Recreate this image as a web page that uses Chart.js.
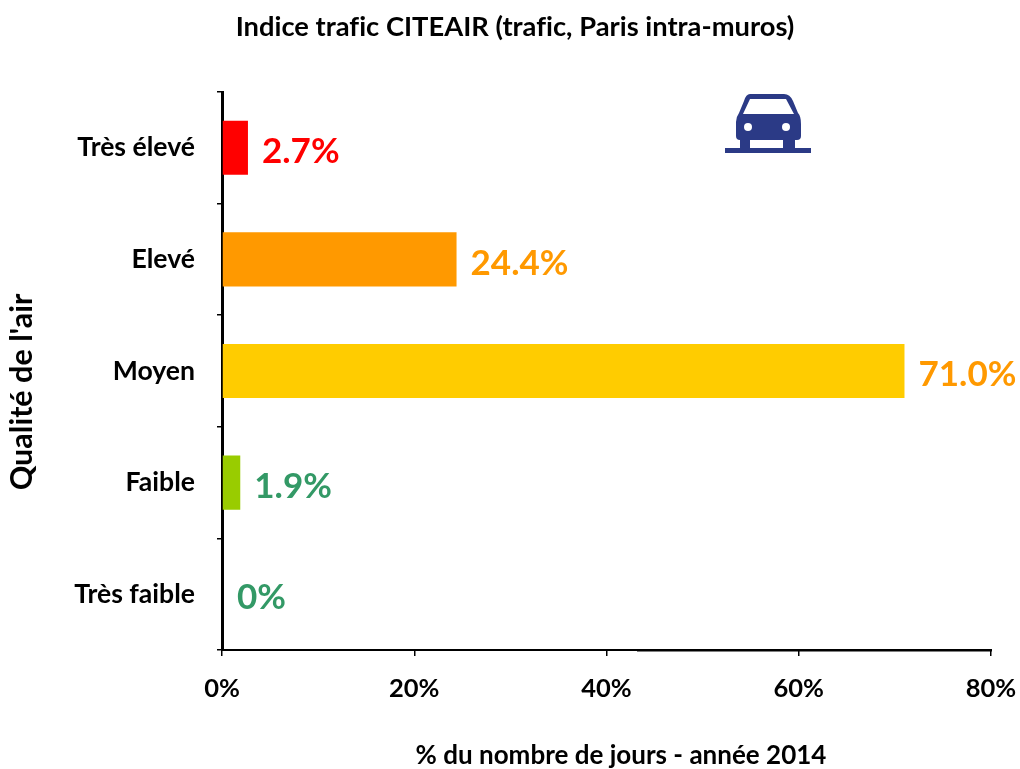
<!DOCTYPE html>
<html><head><meta charset="utf-8">
<style>html,body{margin:0;padding:0;background:#fff}canvas{display:block}</style>
<script src="https://cdn.jsdelivr.net/npm/chart.js@4"></script></head>
<body><canvas id="c" width="1020" height="769"></canvas>
<script>
const categories = ['Très élevé','Elevé','Moyen','Faible','Très faible'];
const values = [2.7,24.4,71.0,1.9,0];
const valueLabels = ['2.7%','24.4%','71.0%','1.9%','0%'];
const barColors = ['#ff0000','#ff9900','#ffcc00','#99cc00','#99cc00'];
const labelColors = ['#ff0000','#ff9900','#ff9900','#339966','#339966'];
const chartTitle = 'Indice trafic CITEAIR (trafic, Paris intra-muros)';
const xTitle = '% du nombre de jours - année 2014';
const yTitle = "Qualité de l'air";
const FONT = 'Lato, Carlito, sans-serif';

const decor = {
  id:'decor',
  afterDatasetsDraw(chart){
    const {ctx,scales:{x,y}} = chart;
    ctx.save();
    ctx.letterSpacing='0.01px';
    ctx.textBaseline='middle';
    ctx.font = `bold 35px ${FONT}`;
    ctx.textAlign='left';
    values.forEach((v,i)=>{
      ctx.fillStyle = labelColors[i];
      ctx.fillText(valueLabels[i], x.getPixelForValue(v)+(v===0?15:14), y.getPixelForValue(i)+4);
    });
    ctx.fillStyle='#000';
    ctx.font = `bold 27.3px ${FONT}`;
    ctx.textAlign='center';
    ctx.fillText(chartTitle,515,27);
    ctx.font = `bold 26px ${FONT}`;
    ctx.fillText(xTitle,621,756);
    ctx.save();
    ctx.translate(22,392);ctx.rotate(-Math.PI/2);
    ctx.font = `bold 30.5px ${FONT}`;
    ctx.fillText(yTitle,0,0);
    ctx.restore();
    // thicker stretch of the baseline
    ctx.fillRect(637,649,355,2.5);
    // car pictogram
    ctx.fillStyle='#2b3a86';
    ctx.fillRect(725,148,86,5);
    ctx.beginPath();
    ctx.moveTo(750,94);ctx.lineTo(784,94);ctx.quadraticCurveTo(790,94,793,101);
    ctx.lineTo(798,113);ctx.quadraticCurveTo(801,116,801,124);ctx.lineTo(801,136);
    ctx.quadraticCurveTo(801,140,797,140);ctx.lineTo(795,140);ctx.lineTo(795,149);ctx.lineTo(783,149);
    ctx.lineTo(783,140);ctx.lineTo(750,140);ctx.lineTo(750,149);ctx.lineTo(740,149);ctx.lineTo(740,140);
    ctx.quadraticCurveTo(736,140,736,136);ctx.lineTo(736,122);
    ctx.quadraticCurveTo(736,117,739,113);ctx.lineTo(744,101);ctx.quadraticCurveTo(746,94,750,94);
    ctx.closePath();ctx.fill();
    ctx.fillStyle='#fff';
    ctx.beginPath();
    ctx.moveTo(750,99);ctx.lineTo(786,99);ctx.lineTo(794,114);ctx.lineTo(743,114);ctx.closePath();ctx.fill();
    ctx.beginPath();ctx.arc(748,127,4,0,7);ctx.fill();
    ctx.beginPath();ctx.arc(786,127,4,0,7);ctx.fill();
    ctx.fillRect(750,140,33,8);
    ctx.restore();
  }
};

new Chart(document.getElementById('c'),{
  type:'bar',
  data:{labels:categories,datasets:[{data:values,backgroundColor:barColors,borderWidth:0,barPercentage:0.485,categoryPercentage:1}]},
  options:{
    indexAxis:'y',responsive:false,animation:false,
    layout:{padding:{left:0,top:92,right:29,bottom:0}},
    plugins:{legend:{display:false},title:{display:false},tooltip:{enabled:false}},
    scales:{
      x:{min:0,max:80,
        ticks:{stepSize:20,callback:v=>v+'%',color:'#000',font:{family:FONT,weight:'bold',size:25.5},padding:17,maxRotation:0},
        grid:{drawOnChartArea:false,drawTicks:true,tickLength:6,color:'#000',lineWidth:1.5},
        border:{display:true,color:'#000',width:2},
        afterFit(s){s.height=119;s.paddingLeft=0;s.paddingRight=0;}},
      y:{
        ticks:{color:'#000',font:{family:FONT,weight:'bold',size:26.6},padding:22},
        grid:{offset:true,drawOnChartArea:false,drawTicks:true,tickLength:5,color:'#000',lineWidth:1.5},
        border:{display:true,color:'#000',width:3},
        afterFit(s){s.width=222;}}
    }
  },
  plugins:[decor]
});
</script></body></html>
